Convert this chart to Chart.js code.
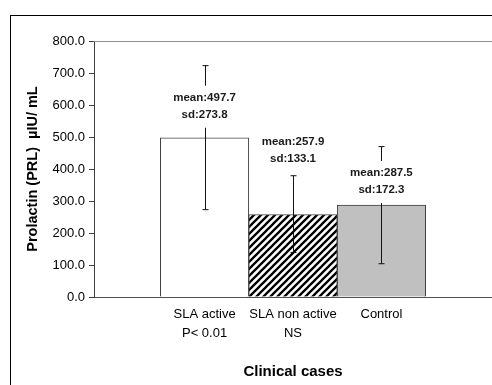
<!DOCTYPE html>
<html>
<head>
<meta charset="utf-8">
<script src="https://cdn.jsdelivr.net/npm/chart.js@4.4.0/dist/chart.umd.min.js"></script>
<style>
  body { margin: 0; background: #fff; }
  #wrap { position: relative; width: 492px; height: 385px; overflow: hidden; }
  #frame { position: absolute; left: 10px; top: 15px; width: 600px; height: 600px; border: 1px solid #000; }
  #wrap canvas { position: absolute; left: 0; top: 0; }
</style>
</head>
<body>
<div id="wrap">
  <div id="frame"></div>
  <canvas id="prl" width="492" height="385"></canvas>
</div>
<script>
// values
var categories = [['SLA active', 'P< 0.01'], ['SLA non active', 'NS'], ['Control']];
var means = [497.7, 257.9, 287.5];
var sds = [273.8, 133.1, 172.3];
var errHigh = [723, 379, 470];   // whisker tops as drawn
var errLow = [273, 139, 104];    // whisker bottoms as drawn

// where the mean/sd notes sit, in px above each bar top
var noteLift = [40, 73, 32];

// diagonal hatch for the middle bar
function makeHatch() {
  var c = document.createElement('canvas');
  c.width = 7; c.height = 7;
  var g = c.getContext('2d');
  g.fillStyle = '#fff';
  g.fillRect(0, 0, 7, 7);
  g.strokeStyle = '#000';
  g.lineWidth = 2.3;
  g.beginPath();
  g.moveTo(-1, 8); g.lineTo(8, -1);
  g.moveTo(-1, 1); g.lineTo(1, -1);
  g.moveTo(6, 8); g.lineTo(8, 6);
  g.stroke();
  return g.createPattern(c, 'repeat');
}
var ctx = document.getElementById('prl').getContext('2d');
var hatch = makeHatch();

var errorBars = {
  id: 'errorBars',
  afterDatasetsDraw: function (chart) {
    var c = chart.ctx, xs = chart.scales.x, ys = chart.scales.y;
    var area = chart.chartArea;
    c.save();
    // top border of the plot
    c.strokeStyle = '#909090';
    c.lineWidth = 1;
    c.beginPath();
    c.moveTo(area.left, Math.round(area.top) + 0.5);
    c.lineTo(area.right, Math.round(area.top) + 0.5);
    c.stroke();

    c.strokeStyle = '#111';
    means.forEach(function (m, i) {
      var x = Math.round(xs.getPixelForValue(i)) + 0.5;
      var yh = ys.getPixelForValue(errHigh[i]);
      var yl = ys.getPixelForValue(errLow[i]);
      c.beginPath();
      c.moveTo(x, yh); c.lineTo(x, yl);
      c.moveTo(x - 3, yh); c.lineTo(x + 3, yh);
      c.moveTo(x - 3, yl); c.lineTo(x + 3, yl);
      c.stroke();
    });

    c.font = 'bold 11.5px "Liberation Sans", Arial, sans-serif';
    c.textAlign = 'center';
    c.textBaseline = 'middle';
    means.forEach(function (m, i) {
      var x = xs.getPixelForValue(i);
      var y1 = ys.getPixelForValue(m) - noteLift[i];
      var y2 = y1 + 17;
      var l1 = 'mean:' + m.toFixed(1);
      var l2 = 'sd:' + sds[i].toFixed(1);
      var w = Math.max(c.measureText(l1).width, c.measureText(l2).width) + 4;
      c.fillStyle = '#fff';
      c.fillRect(x - w / 2, y1 - 12, w, y2 - y1 + 25);
      c.fillStyle = '#1a1a1a';
      c.fillText(l1, x, y1);
      c.fillText(l2, x, y2);
    });
    c.restore();
  }
};

var chart = new Chart(ctx, {
  type: 'bar',
  data: {
    datasets: [{
      data: means.map(function (m, i) { return { x: i, y: m }; }),
      backgroundColor: ['#ffffff', hatch, '#c0c0c0'],
      borderColor: '#404040',
      borderWidth: 1,
      categoryPercentage: 1.0,
      barPercentage: 1.0
    }]
  },
  options: {
    responsive: false,
    animation: false,
    events: [],
    layout: { padding: { top: 41, left: 0, right: 0, bottom: 0 } },
    plugins: {
      legend: { display: false },
      tooltip: { enabled: false }
    },
    scales: {
      x: {
        type: 'linear',
        min: -1.25,
        max: 3.25,
        offset: false,
        afterBuildTicks: function (scale) {
          scale.ticks = categories.map(function (c, i) { return { value: i }; });
        },
        afterFit: function (scale) { scale.height = 88; },
        grid: { display: false, drawTicks: false },
        border: { display: true, color: '#505050' },
        ticks: {
          autoSkip: false,
          maxRotation: 0,
          padding: 8,
          color: '#000',
          font: { family: '"Liberation Sans", Arial, sans-serif', size: 13, lineHeight: 1.45 },
          callback: function (v) { return categories[v]; }
        },
        title: {
          display: true,
          text: 'Clinical cases',
          color: '#000',
          padding: { top: 0, bottom: 4 },
          font: { family: '"Liberation Sans", Arial, sans-serif', size: 15, weight: 'bold' }
        }
      },
      y: {
        min: 0,
        max: 800,
        afterFit: function (scale) { scale.width = 94; },
        grid: { display: true, drawOnChartArea: false, drawTicks: true, tickLength: 5, color: '#404040' },
        border: { display: true, color: '#404040' },
        ticks: {
          stepSize: 100,
          padding: 4,
          color: '#000',
          font: { family: '"Liberation Sans", Arial, sans-serif', size: 13 },
          callback: function (v) { return v.toFixed(1); }
        },
        title: {
          display: true,
          text: 'Prolactin (PRL)  µIU/ mL',
          color: '#000',
          padding: { top: 24, bottom: 0 },
          font: { family: '"Liberation Sans", Arial, sans-serif', size: 14.5, weight: 'bold' }
        }
      }
    }
  },
  plugins: [errorBars]
});
</script>
</body>
</html>
